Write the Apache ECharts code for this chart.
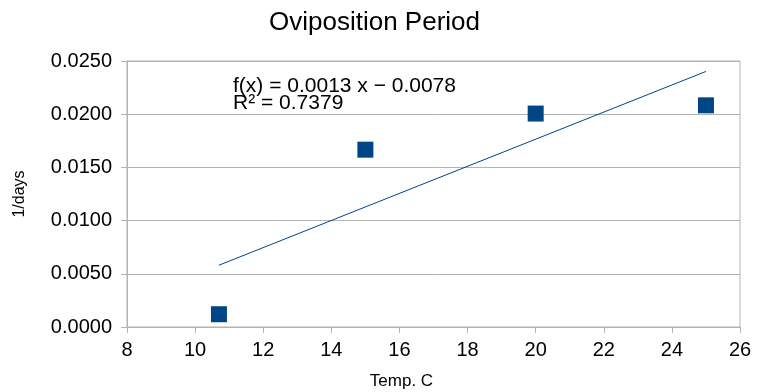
<!DOCTYPE html>
<html>
<head>
<meta charset="utf-8">
<script src="https://cdn.jsdelivr.net/npm/echarts@6/dist/echarts.min.js"></script>
<style>
  html, body { margin: 0; padding: 0; background: #ffffff; }
  #chart { width: 763px; height: 392px; }
</style>
</head>
<body>
<div id="chart"></div>
<script>
// Temperature (°C) and the reciprocal of the oviposition period (1/days)
const temps = [10.7, 15, 20, 25];
const rates = [0.0012, 0.016667, 0.02006, 0.020833];

const xTicks = { min: 8, max: 26, interval: 2 };
const yTicks = { min: 0, max: 0.025, interval: 0.005 };

// Least-squares linear trend
function linearFit(xs, ys) {
  const n = xs.length;
  const mx = xs.reduce((a, b) => a + b, 0) / n;
  const my = ys.reduce((a, b) => a + b, 0) / n;
  let sxy = 0, sxx = 0, syy = 0;
  for (let i = 0; i < n; i++) {
    sxy += (xs[i] - mx) * (ys[i] - my);
    sxx += (xs[i] - mx) * (xs[i] - mx);
    syy += (ys[i] - my) * (ys[i] - my);
  }
  const slope = sxy / sxx;
  const intercept = my - slope * mx;
  const r2 = (sxy * sxy) / (sxx * syy);
  return { slope, intercept, r2 };
}

const fit = linearFit(temps, rates);
const xLo = Math.min(...temps), xHi = Math.max(...temps);
const trend = [
  [xLo, fit.slope * xLo + fit.intercept],
  [xHi, fit.slope * xHi + fit.intercept]
];

function fmtSigned(v) {
  return (v < 0 ? '\u2212 ' : '+ ') + Math.abs(v).toFixed(4);
}
const eqText = 'f(x) = ' + fit.slope.toFixed(4) + ' x ' + fmtSigned(fit.intercept);
const r2Text = 'R\u00B2 = ' + fit.r2.toFixed(4);

const font = '"Liberation Sans", Arial, sans-serif';
const axisGrey = '#b3b3b3';
const markBlue = '#004586';

const chart = echarts.init(document.getElementById('chart'), null, { renderer: 'canvas' });
chart.setOption({
  animation: false,
  backgroundColor: '#ffffff',
  title: {
    text: 'Oviposition Period',
    left: 264,
    top: 5,
    textStyle: { fontFamily: font, fontSize: 26, fontWeight: 'normal', color: '#000000' }
  },
  grid: {
    left: 127, right: 23, top: 61, bottom: 65,
    outerBoundsMode: 'none',
    containLabel: false,
    show: true, borderColor: axisGrey, borderWidth: 1, backgroundColor: 'transparent'
  },
  xAxis: {
    type: 'value',
    min: xTicks.min, max: xTicks.max, interval: xTicks.interval,
    name: 'Temp. C',
    nameLocation: 'middle',
    nameGap: 46,
    // the title sits a little left of the plot's centre
    nameTextStyle: { fontFamily: font, fontSize: 17, color: '#000000', padding: [0, 64, 0, 0] },
    axisLine: { show: true, onZero: false, lineStyle: { color: axisGrey, width: 1 } },
    axisTick: { show: true, length: 6, lineStyle: { color: axisGrey } },
    axisLabel: { fontFamily: font, fontSize: 20, color: '#000000', margin: 13 },
    splitLine: { show: false }
  },
  yAxis: {
    type: 'value',
    min: yTicks.min, max: yTicks.max, interval: yTicks.interval,
    name: '1/days',
    nameLocation: 'middle',
    nameGap: 99,
    nameTextStyle: { fontFamily: font, fontSize: 16, color: '#000000' },
    axisLine: { show: true, lineStyle: { color: axisGrey, width: 1 } },
    axisTick: { show: true, length: 6, lineStyle: { color: axisGrey } },
    axisLabel: {
      fontFamily: font, fontSize: 20, color: '#000000', margin: 15,
      formatter: v => v.toFixed(4)
    },
    splitLine: { show: true, lineStyle: { color: axisGrey, width: 1 } }
  },
  series: [
    {
      type: 'line',
      data: trend,
      showSymbol: false,
      lineStyle: { color: markBlue, width: 1 },
      z: 2
    },
    {
      type: 'scatter',
      data: temps.map((t, i) => [t, rates[i]]),
      symbol: 'rect',
      symbolSize: 16,
      itemStyle: { color: markBlue, opacity: 1 },
      z: 3
    }
  ],
  graphic: [
    {
      type: 'text', left: 233, top: 76,
      style: { text: eqText, font: '21px ' + font, fill: '#000000' }
    },
    {
      type: 'text', left: 233, top: 93,
      style: { text: r2Text, font: '21px ' + font, fill: '#000000' }
    }
  ]
});
</script>
</body>
</html>
